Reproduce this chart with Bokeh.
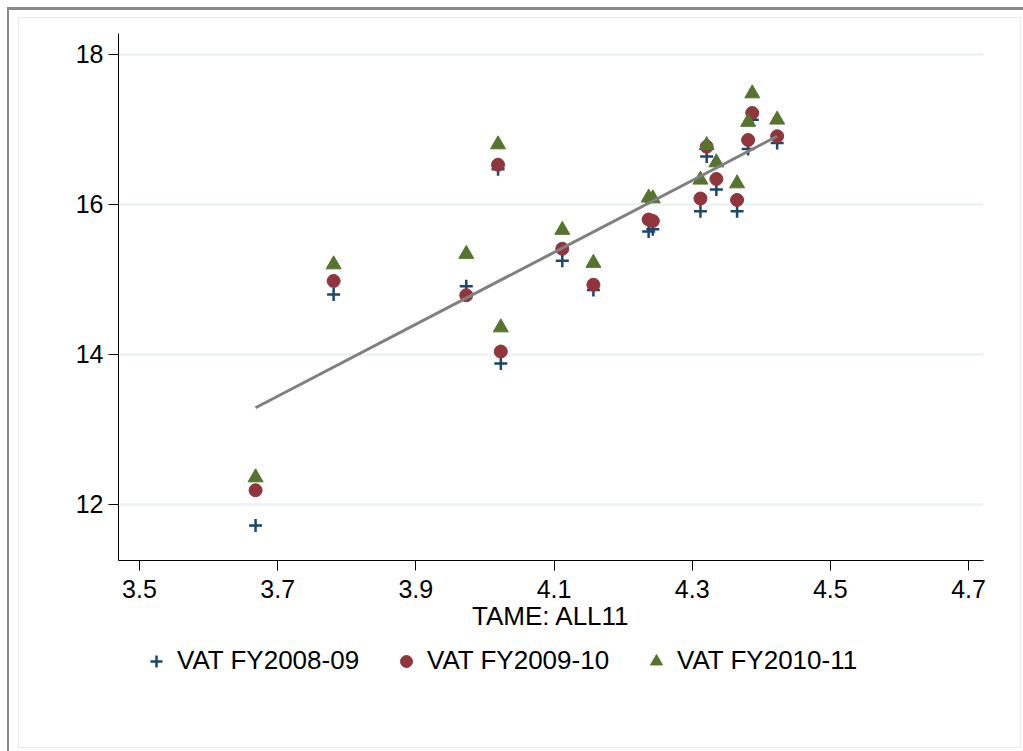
from bokeh.plotting import figure
from bokeh.layouts import column
from bokeh.models import Legend, LegendItem, FixedTicker, Range1d
from bokeh.embed import file_html
from bokeh.resources import INLINE

# ---- data ----
tame = [3.668, 3.781, 3.973, 4.019, 4.023, 4.112, 4.157, 4.237, 4.243,
        4.312, 4.321, 4.335, 4.365, 4.381, 4.387, 4.423]
vat_0809 = [11.72, 14.80, 14.91, 16.47, 13.88, 15.25, 14.86, 15.64, 15.67,
            15.91, 16.64, 16.20, 15.91, 16.74, 17.13, 16.82]
vat_0910 = [12.19, 14.98, 14.79, 16.53, 14.04, 15.41, 14.93, 15.80, 15.78,
            16.08, 16.77, 16.34, 16.06, 16.86, 17.22, 16.91]
vat_1011 = [12.36, 15.20, 15.34, 16.80, 14.36, 15.66, 15.22, 16.09, 16.08,
            16.33, 16.79, 16.56, 16.28, 17.10, 17.48, 17.13]
fit_x = [3.668, 4.423]
fit_y = [13.29, 16.91]
x_ticks = [3.5, 3.7, 3.9, 4.1, 4.3, 4.5, 4.7]
y_ticks = [12, 14, 16, 18]
series_names = ["VAT FY2008-09", "VAT FY2009-10", "VAT FY2010-11"]
x_title = "TAME: ALL11"

FONT = "Liberation Sans"
FS_TICK = "25px"
FS = "26px"
C_PLUS, C_CIRC, C_TRI = "#1a476f", "#90353b", "#55752f"
DARK_EDGE, LIGHT_EDGE = "#8a8a8a", "#e8eced"

W, H1, H2 = 1023, 640, 111

# ---------------- main plot ----------------
p = figure(width=W, height=H1, output_backend="svg", toolbar_location=None,
           x_range=Range1d(3.4696, 4.7217), y_range=Range1d(11.2533, 18.28),
           min_border_left=118, min_border_right=40, min_border_top=33,
           min_border_bottom=80)
p.background_fill_color = "white"
p.border_fill_color = None
p.outline_line_color = None

p.xaxis.ticker = FixedTicker(ticks=x_ticks)
p.yaxis.ticker = FixedTicker(ticks=y_ticks)
p.xaxis.major_label_overrides = {t: f"{t:.1f}" for t in x_ticks}
for ax in (p.xaxis[0], p.yaxis[0]):
    ax.axis_line_color = "black"
    ax.axis_line_width = 1
    ax.major_tick_line_color = "black"
    ax.major_tick_out = 10
    ax.major_tick_in = 0
    ax.minor_tick_line_color = None
    ax.major_label_text_font = FONT
    ax.major_label_text_font_size = FS_TICK
    ax.major_label_text_color = "black"
p.xaxis.major_label_standoff = 9
p.yaxis.major_label_standoff = 5
p.xaxis.axis_label = x_title
p.xaxis.axis_label_text_font = FONT
p.xaxis.axis_label_text_font_size = FS
p.xaxis.axis_label_text_font_style = "normal"
p.xaxis.axis_label_text_color = "black"
p.xaxis.axis_label_standoff = 0

p.xgrid.grid_line_color = None
p.ygrid.grid_line_color = "#eaf2f3"
p.ygrid.grid_line_width = 2.5

p.scatter(tame, vat_0809, marker="cross", size=13, line_color=C_PLUS, line_width=2.5)
p.scatter(tame, vat_0910, marker="circle", size=13, fill_color=C_CIRC, line_color=C_CIRC)
p.scatter(tame, vat_1011, marker="triangle", size=15, fill_color=C_TRI, line_color=C_TRI)
p.line(fit_x, fit_y, line_color="#808080", line_width=3)

# ---------------- legend strip (frame aligned with the main plot) ----------------
q = figure(width=W, height=H2, output_backend="svg", toolbar_location=None,
           x_range=Range1d(118, 983), y_range=Range1d(0, H2),
           x_axis_location=None, y_axis_location=None,
           min_border_left=0, min_border_right=0,
           min_border_top=0, min_border_bottom=0)
q.grid.visible = False
q.outline_line_color = None
q.background_fill_color = None
q.border_fill_color = None

# legend keys: one point of each series (lies outside this strip's ranges)
l1 = q.scatter([tame[0]], [vat_0809[0]], marker="cross", size=13,
               line_color=C_PLUS, line_width=2.5)
l2 = q.scatter([tame[0]], [vat_0910[0]], marker="circle", size=13,
               fill_color=C_CIRC, line_color=C_CIRC)
l3 = q.scatter([tame[0]], [vat_1011[0]], marker="triangle", size=15,
               fill_color=C_TRI, line_color=C_TRI)

legend = Legend(items=[LegendItem(label=series_names[0], renderers=[l1]),
                       LegendItem(label=series_names[1], renderers=[l2]),
                       LegendItem(label=series_names[2], renderers=[l3])],
                orientation="horizontal", location=(23, 75),
                glyph_width=30, glyph_height=30, label_standoff=6,
                label_width=192, spacing=22, padding=0, margin=0,
                border_line_color=None, background_fill_alpha=0,
                label_text_font=FONT, label_text_font_size=FS,
                label_text_color="black")
q.add_layout(legend, "center")

# graph-region edges drawn as the page background behind the transparent borders
bg = ", ".join([
    f"linear-gradient({DARK_EDGE},{DARK_EDGE}) 8px 7px / 1015px 3px no-repeat",
    f"linear-gradient({DARK_EDGE},{DARK_EDGE}) 7px 7px / 2px 744px no-repeat",
    f"linear-gradient({LIGHT_EDGE},{LIGHT_EDGE}) 18px 17px / 1003px 1px no-repeat",
    f"linear-gradient({LIGHT_EDGE},{LIGHT_EDGE}) 18px 747px / 1003px 1px no-repeat",
    f"linear-gradient({LIGHT_EDGE},{LIGHT_EDGE}) 18px 17px / 1px 731px no-repeat",
    f"linear-gradient({LIGHT_EDGE},{LIGHT_EDGE}) 1020px 17px / 1px 731px no-repeat",
    "white",
])
layout = column(p, q, spacing=0, styles={"background": bg})
open("out.html", "w").write(file_html(layout, INLINE))
